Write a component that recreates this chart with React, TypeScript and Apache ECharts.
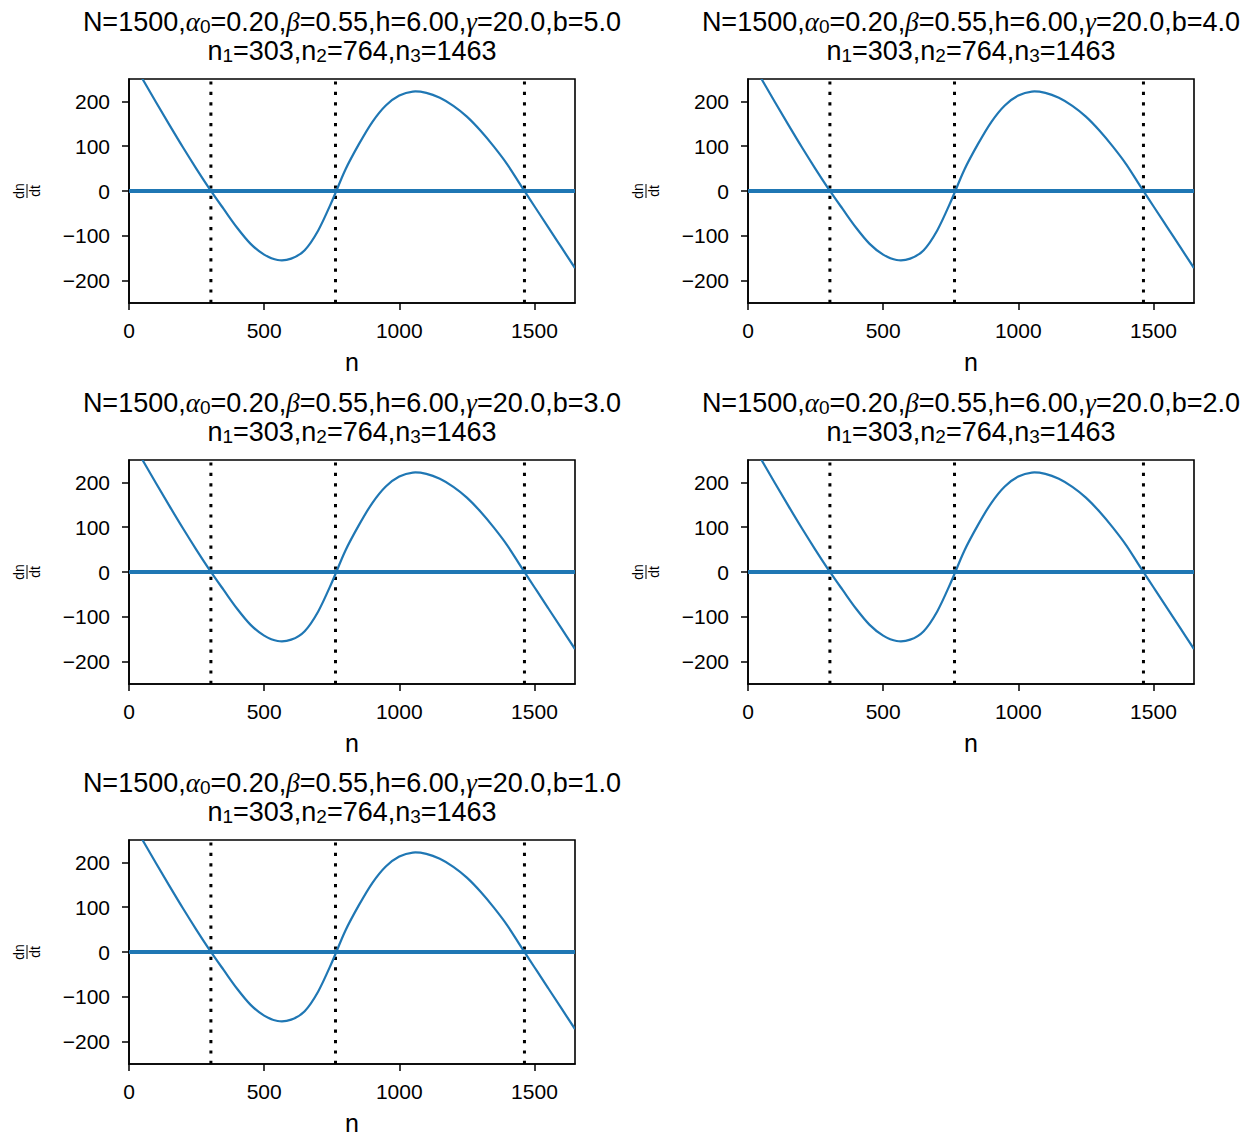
import React, { useEffect, useRef } from 'react';
import * as echarts from 'echarts';

// ---- data ----
const nValues = [0, 50, 100, 150, 200, 250, 300, 350, 400, 450, 500, 550, 600, 650, 700, 750, 800, 850, 900, 950, 1000, 1050, 1100, 1150, 1200, 1250, 1300, 1350, 1400, 1450, 1500, 1550, 1600, 1650];
const dndtValues = [302, 250, 198, 147, 97, 49, 3, -40, -82, -118, -142, -154, -151, -132, -88, -24, 47, 104, 154, 191, 213, 222, 219, 208, 190, 166, 135, 99, 59, 12, -34, -80, -126, -172];
const rootValues = [303, 764, 1463];
const bLabels = ['5.0', '4.0', '3.0', '2.0', '1.0'];
const paramN = '1500';
const paramAlpha0 = '0.20';
const paramBeta = '0.55';
const paramH = '6.00';
const paramGamma = '20.0';
const xTicks = [0, 500, 1000, 1500];
const yTicks = [-200, -100, 0, 100, 200];
const xMin = 0;
const xMax = 1650;
const yMin = -250;
const yMax = 250;

// ---- layout ----
const panelPos = [
  { left: 129, top: 79 },
  { left: 748, top: 79 },
  { left: 129, top: 460 },
  { left: 748, top: 460 },
  { left: 129, top: 840 },
];
const PW = 446;
const PH = 224;
const FONT = '"Liberation Sans", Arial, Helvetica, sans-serif';
const C0 = '#1f77b4';

export default function App() {
  const ref = useRef<HTMLDivElement>(null);
  useEffect(() => {
    if (!ref.current) return;
    const chart = echarts.init(ref.current, null, { renderer: 'svg' });
    const grid: any[] = [];
    const xAxis: any[] = [];
    const yAxis: any[] = [];
    const series: any[] = [];
    const graphic: any[] = [];
    const curve = nValues.map((n, i) => [n, dndtValues[i]]);

    // smooth curve through the data points (Catmull-Rom), positioned by the axes
    const renderCurve = (params: any, api: any) => {
      if (params.dataIndex !== 0) return null;
      const pts = curve.map((d) => api.coord(d));
      let d = `M${pts[0][0]},${pts[0][1]}`;
      for (let k = 0; k < pts.length - 1; k++) {
        const p0 = pts[Math.max(k - 1, 0)];
        const p1 = pts[k];
        const p2 = pts[k + 1];
        const p3 = pts[Math.min(k + 2, pts.length - 1)];
        const c1x = p1[0] + (p2[0] - p0[0]) / 6;
        const c1y = p1[1] + (p2[1] - p0[1]) / 6;
        const c2x = p2[0] - (p3[0] - p1[0]) / 6;
        const c2y = p2[1] - (p3[1] - p1[1]) / 6;
        d += ` C${c1x},${c1y} ${c2x},${c2y} ${p2[0]},${p2[1]}`;
      }
      const cs = params.coordSys;
      return {
        type: 'path',
        shape: { pathData: d },
        style: { stroke: C0, lineWidth: 2.2, fill: 'none' },
        clipPath: { type: 'rect', shape: { x: cs.x, y: cs.y, width: cs.width, height: cs.height } },
        silent: true,
      };
    };

    panelPos.forEach((p, i) => {
      grid.push({
        left: p.left, top: p.top, width: PW, height: PH,
        show: true, borderColor: '#000', borderWidth: 1.6, backgroundColor: 'transparent',
        containLabel: false,
      });
      xAxis.push({
        type: 'value', gridIndex: i, min: xMin, max: xMax,
        axisLine: { show: true, onZero: false, lineStyle: { color: '#000', width: 1.6 } },
        axisTick: { show: true, inside: false, length: 7, customValues: xTicks, lineStyle: { color: '#000', width: 1.5 } },
        axisLabel: {
          show: true, customValues: xTicks, margin: 17, fontSize: 21, color: '#000', fontFamily: FONT,
          formatter: (v: number) => String(v),
        },
        splitLine: { show: false },
        name: 'n', nameLocation: 'middle', nameGap: 46,
        nameTextStyle: { fontSize: 25, color: '#000', fontFamily: FONT },
      });
      yAxis.push({
        type: 'value', gridIndex: i, min: yMin, max: yMax,
        axisLine: { show: true, onZero: false, lineStyle: { color: '#000', width: 1.6 } },
        axisTick: { show: true, inside: false, length: 7, customValues: yTicks, lineStyle: { color: '#000', width: 1.5 } },
        axisLabel: {
          show: true, customValues: yTicks, margin: 19, fontSize: 21, color: '#000', fontFamily: FONT,
          formatter: (v: number) => (v < 0 ? '\u2212' + Math.abs(v) : String(v)),
        },
        splitLine: { show: false },
      });
      rootValues.forEach((r) => {
        series.push({
          type: 'line', xAxisIndex: i, yAxisIndex: i, data: [[r, yMin], [r, yMax]],
          symbol: 'none', silent: true, z: 2,
          lineStyle: { color: '#000', width: 3, type: [3.2, 7.2], cap: 'butt' },
        });
      });
      series.push({
        type: 'custom', xAxisIndex: i, yAxisIndex: i, data: curve,
        encode: { x: 0, y: 1 }, renderItem: renderCurve, silent: true, z: 3,
      });
      series.push({
        type: 'line', xAxisIndex: i, yAxisIndex: i, data: [[xMin, 0], [xMax, 0]],
        symbol: 'none', silent: true, z: 4,
        lineStyle: { color: C0, width: 3.8 },
      });

      const cx = p.left + PW / 2;
      graphic.push({
        type: 'text', x: cx, y: p.top - 72,
        style: {
          text: `N=${paramN},{g|α}{s|0}=${paramAlpha0},{g|β}=${paramBeta},h=${paramH},{g|γ}=${paramGamma},b=${bLabels[i]}\nn{s|1}=303,n{s|2}=764,n{s|3}=1463`,
          fontSize: 27, fontFamily: FONT, fill: '#000', align: 'center', verticalAlign: 'top', lineHeight: 29,
          rich: {
            g: { fontSize: 27, fontFamily: '"Liberation Serif", "DejaVu Serif", serif', fontStyle: 'italic', fill: '#000', lineHeight: 29 },
            s: { fontSize: 19, fontFamily: FONT, fill: '#000', verticalAlign: 'bottom', lineHeight: 18 },
          },
        },
      });
      const fx = p.left - 102;
      const fy = p.top + PH / 2;
      graphic.push({
        type: 'group', x: fx, y: fy, rotation: Math.PI / 2,
        children: [
          { type: 'text', x: 0, y: -1, style: { text: 'dn', fontSize: 14, fontFamily: FONT, fill: '#000', align: 'center', verticalAlign: 'bottom' } },
          { type: 'line', shape: { x1: -7, y1: 0, x2: 7, y2: 0 }, style: { stroke: '#000', lineWidth: 1 } },
          { type: 'text', x: 0, y: 1, style: { text: 'dt', fontSize: 14, fontFamily: FONT, fill: '#000', align: 'center', verticalAlign: 'top' } },
        ],
      });
    });

    chart.setOption({
      animation: false,
      backgroundColor: '#fff',
      grid, xAxis, yAxis, series, graphic,
    });
    return () => chart.dispose();
  }, []);
  return <div ref={ref} style={{ position: 'absolute', left: 0, top: 0, width: 1253, height: 1136 }} />;
}
